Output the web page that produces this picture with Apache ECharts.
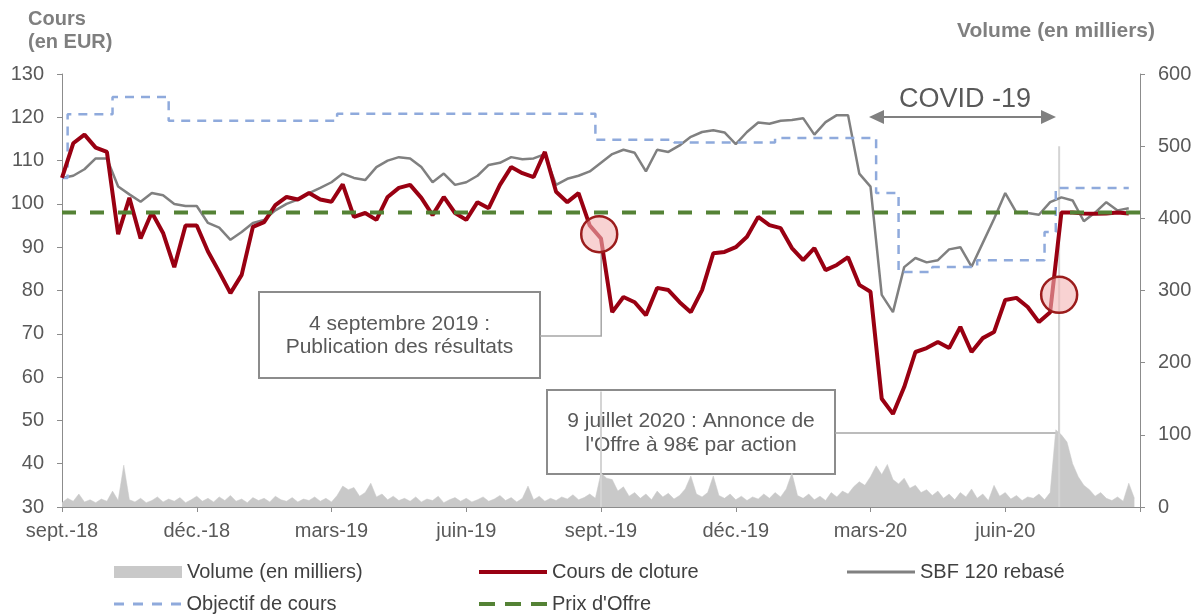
<!DOCTYPE html>
<html>
<head>
    <meta http-equiv="Content-Type" content="text/html; charset=utf-8"/>
    <style type="text/css">
        body, html {
            width: 100%;
            height: 100%;
            margin: 0;
            background: #fff;
            font-family: "Liberation Sans", Arial, sans-serif;
        }
        #chart {
            width: 1201px;
            height: 615px;
        }
    </style>
    <script src="https://cdn.jsdelivr.net/npm/echarts@6/dist/echarts.min.js"></script>
    <title>Cours</title>
</head>
<body>
<div id="chart"></div>
<script type="text/javascript">
    // axe des x en mois depuis le 1er sept. 2018
    var moisLabels = ['sept.-18', 'déc.-18', 'mars-19', 'juin-19', 'sept.-19', 'déc.-19', 'mars-20', 'juin-20', ''];
    var pasSemaine = 0.25;   // un point par semaine (en mois)
    var pasVolume = 0.125;

    var cours = [106, 114, 116, 113, 112, 93, 101.4, 92, 98, 93.3, 85.4, 95, 95, 89, 84.3, 79.4,
        83.6, 94.7, 95.8, 99.7, 101.6, 101, 102.5, 101, 100.5, 104.5, 97, 97.9, 96.3, 101.6, 103.7, 104.4,
        101.4, 97.4, 101.6, 97.9, 96.3, 100.4, 99, 104.4, 108.5, 107.1, 106.2, 112, 102.8, 100.4, 102.5, 95,
        92, 75, 78.5, 77.3, 74.3, 80.6, 80.1, 77.3, 75, 80.1, 88.6, 88.9, 90, 92.4, 97, 95.1,
        94.4, 89.8, 87, 89.8, 84.7, 85.9, 87.7, 81.3, 79.7, 55, 51.5, 57.7, 65.8, 66.7, 68.1, 66.7,
        71.6, 65.8, 69, 70.4, 77.8, 78.3, 76.2, 72.7, 75, 98, 98, 97.8, 97.7, 97.8, 98, 97.8];

    var sbf = [106, 106.5, 108, 110.5, 110.5, 104, 102.2, 100.5, 102.5, 102, 100, 99.5, 99.5, 95.6, 94.5, 91.7,
        93.5, 95.6, 96.3, 98.5, 100, 101, 102.5, 103.7, 105, 107, 106, 105.5, 108.5, 110, 110.8, 110.5,
        108.5, 105, 107, 104.4, 105, 106.5, 109, 109.5, 110.8, 110.3, 110.5, 111.5, 104.4, 105.8, 106.5, 107.5,
        109.5, 111.5, 112.5, 111.8, 107.5, 112.5, 112, 113.5, 115.5, 116.6, 117, 116.5, 113.8, 116.6, 118.8, 118.5,
        119.2, 119.4, 119.8, 116, 118.9, 120.5, 120.5, 107, 104, 79, 75, 85.4, 87.5, 86.5, 87, 89.5,
        90, 85.5, 91, 96.5, 102.5, 98, 97.9, 97.5, 100.4, 101.5, 100.8, 96, 98, 100.4, 98.5, 99];

    var objectif = [106, 120.7, 120.7, 120.7, 120.7, 124.7, 124.7, 124.7, 124.7, 124.7, 119.2, 119.2, 119.2, 119.2, 119.2, 119.2,
        119.2, 119.2, 119.2, 119.2, 119.2, 119.2, 119.2, 119.2, 119.2, 120.8, 120.8, 120.8, 120.8, 120.8, 120.8, 120.8,
        120.8, 120.8, 120.8, 120.8, 120.8, 120.8, 120.8, 120.8, 120.8, 120.8, 120.8, 120.8, 120.8, 120.8, 120.8, 120.8,
        114.8, 114.8, 114.8, 114.8, 114.8, 114.8, 114.8, 114.2, 114.2, 114.2, 114.2, 114.2, 114.2, 114.2, 114.2, 114.2,
        115.2, 115.2, 115.2, 115.2, 115.2, 115.2, 115.2, 115.2, 115.2, 102.5, 102.5, 84.3, 84.3, 84.3, 85.4, 85.4,
        85.4, 85.4, 87, 87, 87, 87, 87, 87, 93.5, 103.7, 103.7, 103.7, 103.7, 103.7, 103.7, 103.7];

    var prixOffre = [98, 98];
    var prixOffreMois = [0, 24];

    var volume = [6, 12, 8, 18, 7, 10, 6, 11, 8, 22, 9, 58, 10, 7, 12, 6,
        9, 14, 7, 11, 8, 13, 6, 10, 15, 8, 12, 7, 14, 9, 16, 8,
        11, 6, 13, 9, 12, 7, 15, 10, 8, 13, 7, 11, 9, 14, 8, 12,
        7, 16, 29, 24, 27, 15, 20, 33, 14, 18, 10, 15, 9, 12, 8, 14,
        7, 11, 9, 15, 6, 10, 13, 8, 12, 7, 10, 14, 8, 11, 16, 9,
        13, 7, 12, 29, 10, 15, 8, 12, 9, 14, 11, 17, 10, 13, 18, 12,
        47, 40, 38, 22, 28, 15, 20, 12, 18, 10, 22, 14, 19, 11, 16, 25,
        43, 18, 14, 20, 43, 16, 12, 18, 10, 15, 9, 14, 11, 18, 12, 20,
        14, 25, 47, 16, 12, 18, 10, 15, 9, 20, 14, 22, 18, 28, 35, 30,
        42, 57, 45, 59, 38, 32, 40, 26, 30, 20, 24, 16, 22, 12, 18, 10,
        20, 14, 25, 12, 18, 9, 30, 15, 20, 11, 16, 9, 14, 12, 18, 10,
        20, 107, 100, 90, 60, 42, 30, 24, 15, 20, 12, 9, 14, 8, 33, 12];

    // pics journaliers très fins (4 sept. 2019, 9 juillet 2020)
    var picsMois = [12.0, 22.2];
    var picsVolume = [160, 500];

    function enPoints(valeurs, pas) {
        return valeurs.map(function (v, i) {
            return [i * pas, v];
        });
    }

    var police = '"Liberation Sans", Arial, sans-serif';
    var gris = '#595959';
    var couleurAxe = '#8c8c8c';
    var grisVolume = '#c9c9c9';

    var myChart = echarts.init(document.getElementById('chart'));

    // une légende par entrée, pour placer chaque élément comme dans l'original
    function legende(nom, left, top, icon, hauteur) {
        return {
            data: [{name: nom, icon: icon}],
            left: left,
            top: top,
            padding: 0,
            itemWidth: 68,
            itemHeight: hauteur,
            textStyle: {fontSize: 20, color: '#404040', fontFamily: police}
        };
    }

    var iconPointille = 'path://M0 0h10v3h-10z M19 0h10v3h-10z M38 0h10v3h-10z M57 0h10v3h-10z';
    var iconTirets = 'path://M0 0h16v4h-16z M26 0h16v4h-16z M52 0h16v4h-16z';

    var option = {
        animation: false,
        textStyle: {fontFamily: police},
        grid: {left: 62, right: 61, top: 74, bottom: 108},
        legend: [
            legende('Volume (en milliers)', 114, 562, 'rect', 12),
            legende('Cours de cloture', 479, 562, 'rect', 4),
            legende('SBF 120 rebasé', 847, 562, 'rect', 3),
            legende('Objectif de cours', 114, 594, iconPointille, 3),
            legende("Prix d'Offre", 479, 594, iconTirets, 4)
        ],
        xAxis: {
            type: 'value',
            min: 0,
            max: 24,
            interval: 3,
            splitLine: {show: false},
            axisLine: {show: true, lineStyle: {color: couleurAxe}},
            axisTick: {show: true, length: 5, lineStyle: {color: couleurAxe}},
            axisLabel: {
                fontSize: 20, color: gris, margin: 14,
                formatter: function (v) {
                    return moisLabels[Math.round(v / 3)];
                }
            }
        },
        yAxis: [
            {
                type: 'value', min: 30, max: 130, interval: 10,
                splitLine: {show: false},
                axisLine: {show: true, lineStyle: {color: couleurAxe}},
                axisTick: {show: true, length: 5, lineStyle: {color: couleurAxe}},
                axisLabel: {fontSize: 20, color: gris, margin: 18}
            },
            {
                type: 'value', min: 0, max: 600, interval: 100,
                splitLine: {show: false},
                axisLine: {show: true, lineStyle: {color: couleurAxe}},
                axisTick: {show: true, length: 5, lineStyle: {color: couleurAxe}},
                axisLabel: {fontSize: 20, color: gris, margin: 18}
            }
        ],
        series: [
            {
                name: 'Volume (en milliers)',
                type: 'line',
                yAxisIndex: 1,
                symbol: 'none',
                z: 1,
                data: enPoints(volume, pasVolume),
                lineStyle: {width: 0.5, color: grisVolume},
                itemStyle: {color: grisVolume},
                areaStyle: {color: grisVolume, opacity: 1}
            },
            {
                name: 'Volume (en milliers)',
                type: 'bar',
                yAxisIndex: 1,
                barWidth: 2,
                z: 1,
                data: picsVolume.map(function (v, i) {
                    return [picsMois[i], v];
                }),
                itemStyle: {color: '#d4d4d4'}
            },
            {
                name: 'SBF 120 rebasé',
                type: 'line',
                symbol: 'none',
                z: 3,
                data: enPoints(sbf, pasSemaine),
                lineStyle: {width: 2.5, color: '#808080'},
                itemStyle: {color: '#808080'}
            },
            {
                name: 'Objectif de cours',
                type: 'line',
                symbol: 'none',
                step: 'middle',
                z: 4,
                data: enPoints(objectif, pasSemaine),
                lineStyle: {width: 2.5, color: '#8faadc', type: [9, 7]},
                itemStyle: {color: '#8faadc'}
            },
            {
                name: 'Cours de cloture',
                type: 'line',
                symbol: 'none',
                z: 5,
                data: enPoints(cours, pasSemaine),
                lineStyle: {width: 4, color: '#990012'},
                itemStyle: {color: '#990012'}
            },
            {
                name: "Prix d'Offre",
                type: 'line',
                symbol: 'none',
                z: 6,
                data: prixOffre.map(function (v, i) {
                    return [prixOffreMois[i], v];
                }),
                lineStyle: {width: 4, color: '#548235', type: [14, 14]},
                itemStyle: {color: '#548235'}
            }
        ]
    };
    myChart.setOption(option);

    // annotations
    var c1 = myChart.convertToPixel({xAxisIndex: 0, yAxisIndex: 0}, [11.96, 93]);
    var c2 = myChart.convertToPixel({xAxisIndex: 0, yAxisIndex: 0}, [22.2, 79]);
    var r = 18;
    var flecheY = 117;

    myChart.setOption({
        graphic: [
            {
                type: 'text', left: 28, top: 8, z: 50,
                style: {text: 'Cours\n(en EUR)', font: 'bold 20px ' + police, fill: '#7f7f7f', lineHeight: 23}
            },
            {
                type: 'text', right: 46, top: 21, z: 50,
                style: {text: 'Volume (en milliers)', font: 'bold 21px ' + police, fill: '#7f7f7f'}
            },
            {
                type: 'rect', z: 0,
                shape: {x: 259, y: 292, width: 281, height: 86},
                style: {fill: '#fff', stroke: '#8c8c8c', lineWidth: 2}
            },
            {
                type: 'text', x: 399.5, y: 336, z: 0,
                style: {
                    text: '4 septembre 2019 :\nPublication des résultats', font: '21px ' + police,
                    fill: gris, align: 'center', verticalAlign: 'middle', lineHeight: 23
                }
            },
            {
                type: 'polyline', z: 0,
                shape: {points: [[540, 336], [c1[0] + 2, 336], [c1[0] + 2, c1[1] + r]]},
                style: {stroke: '#a6a6a6', lineWidth: 1.5, fill: null}
            },
            {
                type: 'rect', z: 0,
                shape: {x: 547, y: 390, width: 288, height: 84},
                style: {fill: '#fff', stroke: '#8c8c8c', lineWidth: 2}
            },
            {
                type: 'text', x: 691, y: 433, z: 0,
                style: {
                    text: "9 juillet 2020 : Annonce de\nl'Offre à 98€ par action", font: '21px ' + police,
                    fill: gris, align: 'center', verticalAlign: 'middle', lineHeight: 24
                }
            },
            {
                type: 'polyline', z: 0,
                shape: {points: [[835, 433], [c2[0], 433], [c2[0], c2[1] + r]]},
                style: {stroke: '#a6a6a6', lineWidth: 1.5, fill: null}
            },
            {
                type: 'circle', z: 100,
                shape: {cx: c1[0], cy: c1[1], r: r},
                style: {fill: 'rgba(244,180,180,0.6)', stroke: '#9b1c1c', lineWidth: 2.5}
            },
            {
                type: 'circle', z: 100,
                shape: {cx: c2[0], cy: c2[1], r: r},
                style: {fill: 'rgba(244,180,180,0.6)', stroke: '#9b1c1c', lineWidth: 2.5}
            },
            {
                type: 'text', x: 965, y: 100, z: 50,
                style: {text: 'COVID -19', font: '27px ' + police, fill: gris, align: 'center', verticalAlign: 'middle'}
            },
            {
                type: 'line', z: 50,
                shape: {x1: 880, y1: flecheY, x2: 1045, y2: flecheY},
                style: {stroke: '#808080', lineWidth: 2}
            },
            {
                type: 'polygon', z: 50,
                shape: {points: [[869, flecheY], [884, flecheY - 7], [884, flecheY + 7]]},
                style: {fill: '#808080'}
            },
            {
                type: 'polygon', z: 50,
                shape: {points: [[1056, flecheY], [1041, flecheY - 7], [1041, flecheY + 7]]},
                style: {fill: '#808080'}
            }
        ]
    });
</script>
</body>
</html>
